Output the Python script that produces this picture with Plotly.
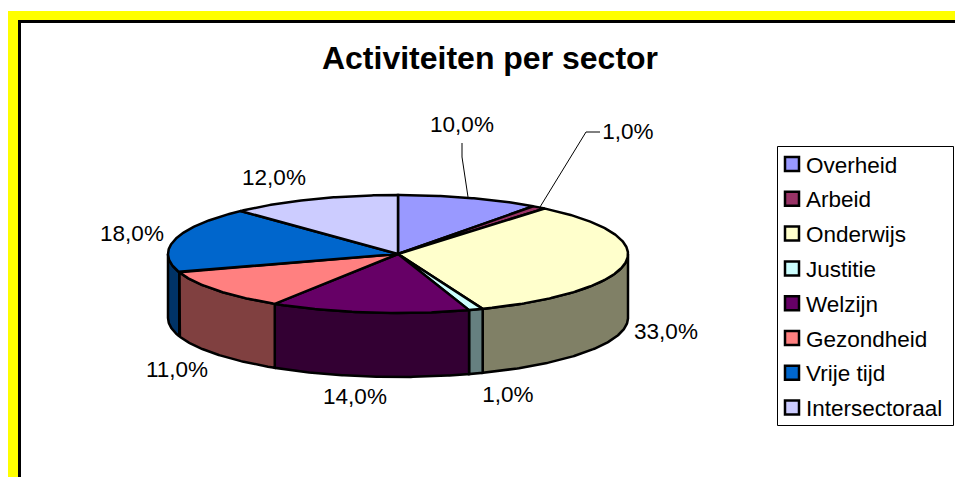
import numpy as np
import plotly.graph_objects as go

# ---- data ----
categories = ["Overheid", "Arbeid", "Onderwijs", "Justitie", "Welzijn",
              "Gezondheid", "Vrije tijd", "Intersectoraal"]
values = [10.0, 1.0, 33.0, 1.0, 14.0, 11.0, 18.0, 12.0]
top_colors = ["#9999FF", "#993366", "#FFFFCC", "#CCFFFF", "#660066",
              "#FF8080", "#0066CC", "#CCCCFF"]
side_colors = ["#4D4D80", "#4D1933", "#808066", "#668080", "#330033",
               "#804040", "#003366", "#666680"]
title_text = "Activiteiten per sector"

# ---- layout constants (pixels) ----
W, H = 955, 477
CX, CY, RX, RY, DEPTH = 398, 254, 230, 59, 64
FONT = "Liberation Sans"
label_pos = [(462, 126), (628, 133), (666, 333), (508, 396),
             (355, 398), (177, 371), (132, 235), (274, 179)]
leader_10 = ([468, 462, 462], [197, 157, 143])
leader_1 = ([540, 586, 600], [207, 132, 132])


def arc(a0, a1, dy=0.0):
    t = np.radians(np.linspace(a0, a1, max(int(abs(a1 - a0) * 2), 2)))
    return CX + RX * np.sin(t), CY + dy - RY * np.cos(t)


fig = go.Figure()
edges = np.cumsum([0.0] + values) / sum(values) * 360.0

# side walls (visible front half only)
for i in range(len(values)):
    a0, a1 = max(edges[i], 90.0), min(edges[i + 1], 270.0)
    if a1 <= a0:
        continue
    xt, yt = arc(a0, a1)
    xb, yb = arc(a1, a0, DEPTH)
    fig.add_trace(go.Scatter(
        x=np.r_[xt, xb, xt[0]], y=np.r_[yt, yb, yt[0]], mode="lines",
        fill="toself", fillcolor=side_colors[i],
        line=dict(color="black", width=2.5), name=categories[i] + " (zijkant)",
        showlegend=False, hoverinfo="skip"))

# top wedges
for i in range(len(values)):
    xt, yt = arc(edges[i], edges[i + 1])
    fig.add_trace(go.Scatter(
        x=np.r_[CX, xt, CX], y=np.r_[CY, yt, CY], mode="lines",
        fill="toself", fillcolor=top_colors[i],
        line=dict(color="black", width=2.5), name=categories[i],
        showlegend=False, hoverinfo="name"))

# leader lines
for lx, ly in (leader_10, leader_1):
    fig.add_trace(go.Scatter(x=lx, y=ly, mode="lines",
                             line=dict(color="black", width=1),
                             showlegend=False, hoverinfo="skip"))

# data labels
fig.add_trace(go.Scatter(
    x=[p[0] for p in label_pos], y=[p[1] for p in label_pos], mode="text",
    text=[f"{v:.1f}".replace(".", ",") + "%" for v in values],
    textposition="middle center",
    textfont=dict(family=FONT, size=22.5, color="black"),
    showlegend=False, hoverinfo="skip"))

shapes = [
    dict(type="rect", x0=8, y0=11, x1=W + 5, y1=H + 5, fillcolor="#FFFF00", line_width=0, layer="below"),
    dict(type="rect", x0=18, y0=20, x1=W + 5, y1=H + 5, fillcolor="black", line_width=0, layer="below"),
    dict(type="rect", x0=21, y0=23, x1=W + 5, y1=H + 5, fillcolor="white", line_width=0, layer="below"),
    dict(type="rect", x0=777.5, y0=146.5, x1=953.5, y1=425.5, fillcolor="white",
         line=dict(color="black", width=1), layer="below"),
]
annotations = []
for i, name in enumerate(categories):
    yc = 164 + 34.8 * i
    shapes.append(dict(type="rect", x0=785, x1=799, y0=yc - 7, y1=yc + 7,
                       fillcolor=top_colors[i], line=dict(color="black", width=2.5)))
    annotations.append(dict(x=803.5, y=yc + 1, text=name, xref="x", yref="y", xanchor="left",
                            yanchor="middle", showarrow=False,
                            font=dict(family=FONT, size=22.5, color="black")))

fig.update_layout(
    width=W, height=H, autosize=False,
    margin=dict(l=0, r=0, t=0, b=0),
    paper_bgcolor="white", plot_bgcolor="white",
    title=dict(text=title_text, x=490 / W, y=1 - 58 / H, xanchor="center", yanchor="middle",
               xref="paper", yref="paper",
               font=dict(family=FONT, size=32, color="black", weight="bold")),
    xaxis=dict(range=[0, W], visible=False, fixedrange=True),
    yaxis=dict(range=[H, 0], visible=False, fixedrange=True),
    shapes=shapes, annotations=annotations, showlegend=False,
)
fig.write_html("out.html", config=dict(displayModeBar=False),
               post_script="document.body.style.margin='0';document.documentElement.style.overflow='hidden';")
